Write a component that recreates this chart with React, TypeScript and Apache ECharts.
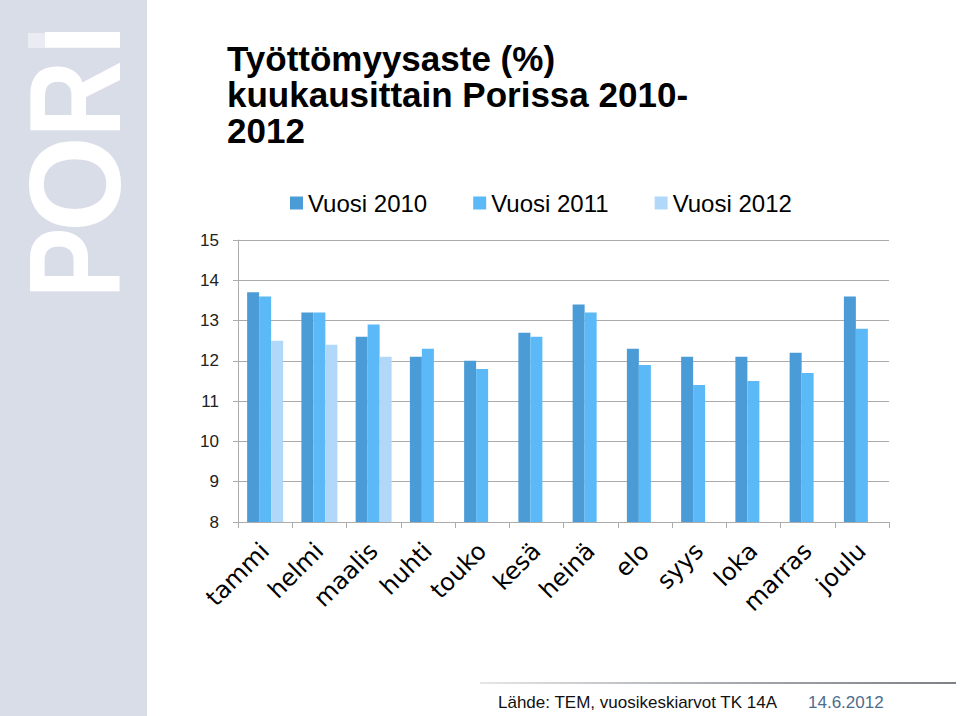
import React, { useEffect, useRef } from "react";
import * as echarts from "echarts";

const months = ["tammi", "helmi", "maalis", "huhti", "touko", "kesä", "heinä", "elo", "syys", "loka", "marras", "joulu"];
const v2010 = [13.7, 13.2, 12.6, 12.1, 12.0, 12.7, 13.4, 12.3, 12.1, 12.1, 12.2, 13.6];
const v2011 = [13.6, 13.2, 12.9, 12.3, 11.8, 12.6, 13.2, 11.9, 11.4, 11.5, 11.7, 12.8];
const v2012 = [12.5, 12.4, 12.1, null, null, null, null, null, null, null, null, null];
const seriesNames = ["Vuosi 2010", "Vuosi 2011", "Vuosi 2012"];
const seriesColors = ["#4b9cd6", "#5ab9f6", "#b2d8f9"];
const yTicks = { min: 8, max: 15, interval: 1 };
const titleText = "Työttömyysaste (%)\nkuukausittain Porissa 2010-\n2012";
const sourceText = "Lähde: TEM, vuosikeskiarvot TK 14A";
const dateText = "14.6.2012";

export default function App() {
  const ref = useRef<HTMLDivElement>(null);
  useEffect(() => {
    if (!ref.current) return;
    const chart = echarts.init(ref.current, null, { renderer: "svg" });
    const gridColor = "#ababab";
    const letterFont = "bold 130px 'Liberation Sans', Arial, sans-serif";
    chart.setOption({
      animation: false,
      backgroundColor: "#ffffff",
      title: {
        text: titleText,
        left: 222,
        top: 35,
        textStyle: {
          fontFamily: "'Liberation Sans', Arial, sans-serif",
          fontWeight: "bold",
          fontSize: 35,
          lineHeight: 36,
          color: "#000000",
        },
      },
      legend: {
        left: 285,
        top: 186,
        itemWidth: 13,
        itemHeight: 13,
        itemGap: 46,
        icon: "rect",
        data: seriesNames,
        textStyle: {
          fontFamily: "'Liberation Sans', Arial, sans-serif",
          fontSize: 24,
          color: "#000000",
        },
      },
      grid: { left: 238, right: 71, top: 240, bottom: 194, containLabel: false },
      xAxis: {
        type: "category",
        data: months,
        boundaryGap: true,
        axisLine: { show: true, lineStyle: { color: gridColor, width: 1 } },
        axisTick: { show: true, length: 6, lineStyle: { color: gridColor } },
        axisLabel: {
          rotate: 45,
          margin: 25,
          interval: 0,
          fontFamily: "'DejaVu Sans', Verdana, sans-serif",
          fontSize: 24,
          color: "#000000",
        },
      },
      yAxis: {
        type: "value",
        min: yTicks.min,
        max: yTicks.max,
        interval: yTicks.interval,
        axisLine: { show: true, lineStyle: { color: gridColor, width: 1 } },
        axisTick: { show: true, length: 5, lineStyle: { color: gridColor } },
        splitLine: { show: true, lineStyle: { color: gridColor, width: 1 } },
        axisLabel: {
          margin: 19,
          fontFamily: "'Liberation Sans', Arial, sans-serif",
          fontSize: 17,
          color: "#222222",
        },
      },
      series: [v2010, v2011, v2012].map((d, i) => ({
        name: seriesNames[i],
        type: "bar",
        data: d,
        barWidth: 12,
        barGap: "0%",
        itemStyle: { color: seriesColors[i] },
      })),
      graphic: [
        { type: "rect", z: 0, shape: { x: 0, y: 0, width: 147, height: 716 }, style: { fill: "#d9dde8" } },
        {
          type: "text", z: 1, x: 75, y: 263, rotation: Math.PI / 2, scaleX: 0.82,
          style: { text: "P", font: letterFont, fill: "#ffffff", align: "center", verticalAlign: "middle" },
        },
        {
          type: "text", z: 1, x: 75, y: 184, rotation: Math.PI / 2, scaleX: 0.95,
          style: { text: "O", font: letterFont, fill: "#ffffff", align: "center", verticalAlign: "middle" },
        },
        {
          type: "text", z: 1, x: 75, y: 99, rotation: Math.PI / 2, scaleX: 0.82,
          style: { text: "R", font: letterFont, fill: "#ffffff", align: "center", verticalAlign: "middle" },
        },
        {
          type: "text", z: 1, x: 75, y: 40, rotation: Math.PI / 2, scaleX: 0.85,
          style: { text: "I", font: letterFont, fill: "#ffffff", align: "center", verticalAlign: "middle" },
        },
        { type: "rect", z: 2, shape: { x: 20, y: 28, width: 25, height: 24 }, style: { fill: "#d9dde8" } },
        { type: "rect", z: 3, shape: { x: 28, y: 33, width: 17, height: 15 }, style: { fill: "#e9ecf3" } },
        {
          type: "rect", z: 1, shape: { x: 480, y: 682, width: 476, height: 2 },
          style: {
            fill: new echarts.graphic.LinearGradient(0, 0, 1, 0, [
              { offset: 0, color: "#e6e6e6" },
              { offset: 0.5, color: "#a8acb2" },
              { offset: 1, color: "#7d8187" },
            ]),
          },
        },
        {
          type: "text", z: 1, x: 498, y: 702,
          style: {
            text: sourceText, fill: "#111111", align: "left", verticalAlign: "middle",
            font: "17px 'Liberation Sans', Arial, sans-serif",
          },
        },
        {
          type: "text", z: 1, x: 808, y: 702,
          style: {
            text: dateText, fill: "#4d6d8c", align: "left", verticalAlign: "middle",
            font: "17px 'Liberation Sans', Arial, sans-serif",
          },
        },
      ],
    });
    return () => chart.dispose();
  }, []);
  return <div ref={ref} style={{ position: "absolute", left: 0, top: 0, width: 960, height: 716 }} />;
}
